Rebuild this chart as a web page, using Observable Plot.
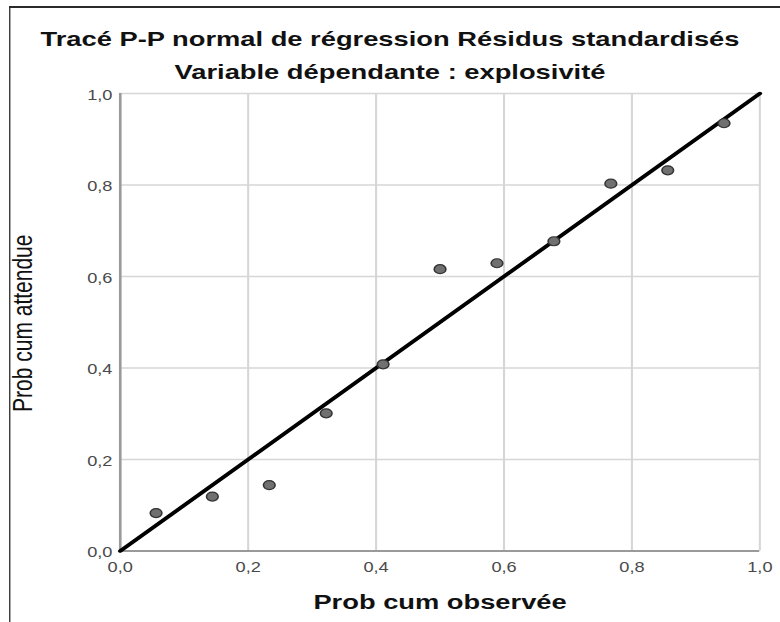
<!DOCTYPE html>
<html>
<head>
<meta charset="utf-8">
<script src="https://cdn.jsdelivr.net/npm/d3@7"></script>
<script src="https://cdn.jsdelivr.net/npm/@observablehq/plot@0.6"></script>
<style>
  html, body { margin: 0; padding: 0; background: #fff; overflow: hidden; }
  #fig {
    position: relative; width: 600px; height: 622px;
    transform: scaleX(1.3); transform-origin: 0 0;
    font-family: "Liberation Sans", Arial, sans-serif;
  }
  #frame {
    position: absolute; left: 7px; top: 6px; width: 800px; height: 800px;
    border-left: 1.8px solid #2a2a2a; border-top: 2px solid #2a2a2a;
  }
  #chart { position: absolute; left: 0; top: 0; }
  .title {
    position: absolute; left: 0; width: 600px; text-align: center;
    font-weight: bold; font-size: 21px; line-height: 21px; color: #111;
    white-space: nowrap;
  }
</style>
</head>
<body>
<div id="fig">
  <div id="frame"></div>
  <div id="chart"></div>
  <div class="title" style="top:28px">Tracé P-P normal de régression Résidus standardisés</div>
  <div class="title" style="top:61px">Variable dépendante : explosivité</div>
</div>
<script>
// Cumulative probabilities of the standardized residuals
const observed = [0.056, 0.144, 0.233, 0.322, 0.411, 0.500, 0.589, 0.678, 0.767, 0.856, 0.944];
const expected = [0.083, 0.119, 0.144, 0.301, 0.408, 0.616, 0.629, 0.677, 0.803, 0.832, 0.935];

// Axis ticks and the identity reference line
const ticks = [0, 0.2, 0.4, 0.6, 0.8, 1.0];
const refLine = [0, 1];

const xLabel = "Prob cum observée";
const yLabel = "Prob cum attendue";

const points = observed.map((o, i) => ({obs: o, exp: expected[i]}));
const fmt = d => d3.format(".1f")(d).replace(".", ",");

const chart = Plot.plot({
  width: 600,
  height: 622,
  marginLeft: 92,
  marginRight: 16,
  marginTop: 93,
  marginBottom: 71.5,
  x: {domain: [0, 1]},
  y: {domain: [0, 1]},
  style: {fontFamily: "Liberation Sans, Arial, sans-serif", background: "none"},
  marks: [
    Plot.gridX(ticks, {stroke: "#d6d6d6", strokeOpacity: 1, strokeWidth: 1.6}),
    Plot.gridY(ticks, {stroke: "#d6d6d6", strokeOpacity: 1, strokeWidth: 1.6}),
    Plot.ruleX([0], {stroke: "#9a9a9a", strokeWidth: 2}),
    Plot.ruleY([0], {stroke: "#9a9a9a", strokeWidth: 2}),
    Plot.axisX(ticks, {tickSize: 0, tickPadding: 11, tickFormat: fmt, fontSize: 14, fill: "#4a4a4a", label: null}),
    Plot.axisY(ticks, {tickSize: 0, tickPadding: 6, tickFormat: fmt, fontSize: 14, fill: "#4a4a4a", label: null, dy: 2}),
    Plot.line(refLine, {x: d => d, y: d => d, stroke: "#000", strokeWidth: 3.5}),
    Plot.dot(points, {x: "obs", y: "exp", r: 4.5, fill: "#707070", stroke: "#333", strokeWidth: 1.2}),
    Plot.text([xLabel], {text: d => d, frameAnchor: "bottom", lineAnchor: "middle", dy: 50.8,
      fontSize: 21, fontWeight: "bold", fill: "#111"}),
    Plot.text([yLabel], {text: d => d, frameAnchor: "left", textAnchor: "middle", lineAnchor: "middle",
      rotate: -90, dx: -74.5, dy: 1, fontSize: 21, fill: "#111"})
  ]
});

document.getElementById("chart").appendChild(chart);
</script>
</body>
</html>
